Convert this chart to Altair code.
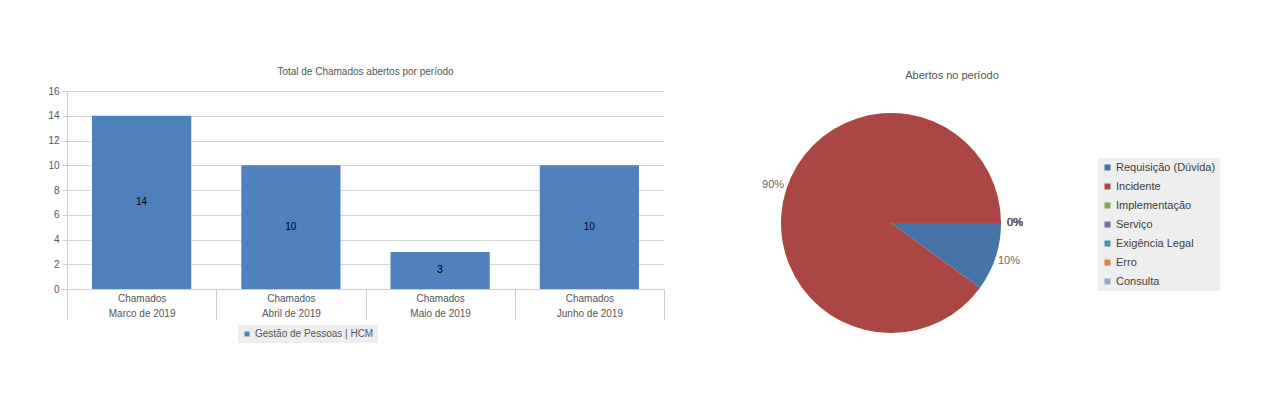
import altair as alt
import pandas as pd

# ---- data ----
grupo = "Chamados"
periodos = ["Marco de 2019", "Abril de 2019", "Maio de 2019", "Junho de 2019"]
totais = [14, 10, 3, 10]
serie = "Gestão de Pessoas | HCM"
y_ticks = [0, 2, 4, 6, 8, 10, 12, 14, 16]

tipos = ["Requisição (Dúvida)", "Incidente", "Implementação", "Serviço",
         "Exigência Legal", "Erro", "Consulta"]
percentuais = [10, 90, 0, 0, 0, 0, 0]
cores_pie = ["#4572A7", "#AA4643", "#89A54E", "#80699B", "#3D96AE", "#DB843D", "#92A8CD"]

NARROW = "Liberation Sans, Arial, sans-serif"
ARIAL = "Liberation Sans, Arial, sans-serif"
FS = 10

bar_df = pd.DataFrame({
    "cat": [f"{grupo}|{p}" for p in periodos],
    "value": totais,
    "serie": [serie] * len(totais),
})

pie_df = pd.DataFrame({
    "tipo": tipos,
    "pct": percentuais,
    "idx": list(range(len(tipos))),
    "label": [f"{v}%" for v in percentuais],
})

# ---- bar chart ----
xenc = alt.X(
    "cat:N", sort=None, title=None,
    scale=alt.Scale(paddingInner=0, paddingOuter=0),
    axis=alt.Axis(
        labelExpr="split(datum.label, '|')", labelAngle=0, labelLineHeight=15,
        tickBand="extent", tickSize=31, tickColor="#cccccc", domainColor="#cccccc",
        labelColor="#555555", labelFont=NARROW, labelFontSize=FS, labelPadding=-27,
        labelBaseline="top", grid=False,
    ),
)
yaxis = alt.Axis(values=y_ticks, gridColor="#d9d9d9", domainColor="#cccccc",
                 tickColor="#cccccc", tickSize=5, labelColor="#555555",
                 labelFont=NARROW, labelFontSize=FS, labelPadding=3, labelOverlap=False)

bar_base = alt.Chart(bar_df)
bars = bar_base.mark_bar(color="#4F81BD", width=alt.RelativeBandSize(0.665)).encode(
    x=xenc,
    y=alt.Y("value:Q", title=None, scale=alt.Scale(domain=[0, 16], nice=False), axis=yaxis),
    color=alt.Color("serie:N", scale=alt.Scale(domain=[serie], range=["#4F81BD"]),
                    legend=alt.Legend(title=None, orient="none", legendX=171, legendY=234,
                                      symbolType="square", symbolSize=25, labelOffset=3,
                                      labelFont=NARROW, labelFontSize=FS, labelColor="#555555",
                                      fillColor="#eeeeee", padding=4)),
)
bar_text = bar_base.transform_calculate(mid="datum.value / 2").mark_text(
    font=NARROW, fontSize=FS, color="#000000"
).encode(
    x=xenc,
    y=alt.Y("mid:Q", title=None, scale=alt.Scale(domain=[0, 16], nice=False), axis=yaxis),
    text=alt.Text("value:Q"),
)

bar_chart = alt.layer(bars, bar_text).properties(
    width=597, height=198,
    title=alt.TitleParams("Total de Chamados abertos por período", font=NARROW,
                          fontSize=FS, fontWeight="normal", color="#555555", offset=9),
)

# ---- pie chart ----
theta = alt.Theta("pct:Q", stack=True, scale=alt.Scale(range=[1.5708, 7.854]))
pie_base = alt.Chart(pie_df)
arcs = pie_base.mark_arc(outerRadius=110).encode(
    theta=theta,
    order=alt.Order("idx:Q"),
    color=alt.Color("tipo:N", sort=tipos,
                    scale=alt.Scale(domain=tipos, range=cores_pie),
                    legend=alt.Legend(title=None, orient="none", legendX=407, legendY=67,
                                      symbolType="square", symbolSize=36, labelOffset=3,
                                      labelFont=ARIAL, labelFontSize=11, labelColor="#3e3e3e",
                                      fillColor="#eeeeee", padding=4, rowPadding=7)),
)
pie_text = pie_base.mark_text(radius=124, font=ARIAL, fontSize=11).encode(
    theta=theta,
    order=alt.Order("idx:Q"),
    text="label:N",
    color=alt.value("#666666"),
)
pie_chart = alt.layer(arcs, pie_text).properties(
    width=400, height=264,
    title=alt.TitleParams("Abertos no período", font=ARIAL, fontSize=11,
                          fontWeight="normal", color="#555555", offset=10, dx=61),
)

chart = alt.hconcat(bar_chart, pie_chart, spacing=26).resolve_scale(
    color="independent"
).resolve_legend(color="independent").properties(
    padding={"left": 39, "top": 59, "right": 0, "bottom": 0}
).configure_view(stroke=None)

chart.save("out.html", embed_options={"renderer": "svg", "actions": False})
